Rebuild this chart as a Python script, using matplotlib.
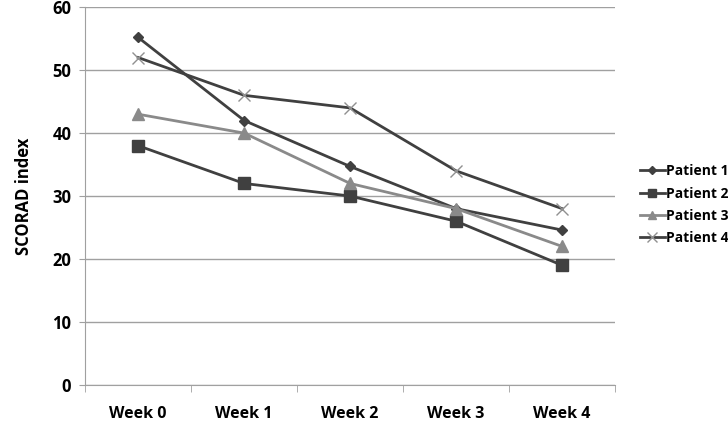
import matplotlib.pyplot as plt
import numpy as np

# Data
weeks = ['Week 0', 'Week 1', 'Week 2', 'Week 3', 'Week 4']
patient_1 = [55.2, 42, 34.7, 28, 24.6]
patient_2 = [38, 32, 30, 26, 19]
patient_3 = [43, 40, 32, 28, 22]
patient_4 = [52, 46, 44, 34, 28]

plt.rcParams['font.family'] = ['Open Sans', 'DejaVu Sans']
plt.rcParams['font.weight'] = 'bold'

fig = plt.figure(figsize=(7.28, 4.23), dpi=100)
ax = fig.add_axes([0.117, 0.090, 0.728, 0.893])

x = np.arange(len(weeks))
dark = '#404040'
ax.plot(x, patient_1, color=dark, lw=2, marker='D', ms=5, label='Patient 1')
ax.plot(x, patient_2, color=dark, lw=2, marker='s', ms=8, label='Patient 2')
ax.plot(x, patient_3, color='#8a8a8a', lw=2, marker='^', ms=8, label='Patient 3')
ax.plot(x, patient_4, color=dark, lw=2, marker='x', ms=9, mew=1,
        mec='#909090', label='Patient 4')

ax.set_xlim(-0.5, 4.5)
ax.set_ylim(0, 60)
ax.set_yticks(range(0, 61, 10))
ax.set_xticks(x)
ax.set_xticklabels(weeks, fontsize=11.5, fontweight='bold')
ax.tick_params(axis='x', length=0, pad=15)
ax.set_xticks(np.arange(-0.5, 4.6, 1), minor=True)
ax.tick_params(axis='x', which='minor', length=5, color='#a0a0a0')
ax.tick_params(axis='y', labelsize=12, length=4, color='#a0a0a0', pad=6)
ax.yaxis.grid(True, color='#a0a0a0', lw=1)
ax.set_axisbelow(True)
for s in ['top', 'right']:
    ax.spines[s].set_visible(False)
for s in ['left', 'bottom']:
    ax.spines[s].set_color('#a0a0a0')
ax.set_ylabel('SCORAD index', fontsize=12, fontweight='bold', labelpad=14)

ax.legend(loc='center left', bbox_to_anchor=(1.036, 0.477), frameon=False,
          fontsize=10, handlelength=1.8, handletextpad=0.1, labelspacing=0.6,
          borderaxespad=0, markerscale=0.8)

fig.savefig('out.png', dpi=100)
